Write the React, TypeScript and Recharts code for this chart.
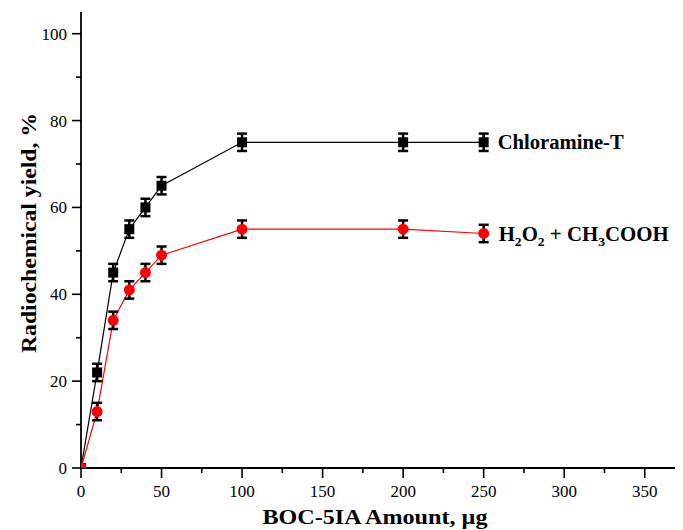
import { ComposedChart, Line, XAxis, YAxis, ErrorBar, LabelList } from 'recharts';

const amounts = [0, 10, 20, 30, 40, 50, 100, 200, 250];
const chloramineYield = [0, 22, 45, 55, 60, 65, 75, 75, 75];
const chloramineErr = [null, 2, 2, 2, 2, 2, 2, 2, 2];
const peroxideYield = [0, 13, 34, 41, 45, 49, 55, 55, 54];
const peroxideErr = [null, 2, 2, 2, 2, 2, 2, 2, 2];

const xTicks = [0, 25, 50, 75, 100, 125, 150, 175, 200, 225, 250, 275, 300, 325, 350];
const yTicks = [0, 10, 20, 30, 40, 50, 60, 70, 80, 90, 100];

const FONT = "'Liberation Serif', 'Times New Roman', Times, serif";
const LAST = amounts.length - 1;

const data = amounts.map((x, i) => ({
  x,
  ct: chloramineYield[i],
  ctErr: chloramineErr[i],
  h2: peroxideYield[i],
  h2Err: peroxideErr[i],
}));

const txt = { fontFamily: FONT, fill: '#000' };

const XTick = (p: any) => {
  const { x, y, payload } = p;
  const major = payload.value % 50 === 0;
  return (
    <g>
      <line x1={x} x2={x} y1={y} y2={y + (major ? 10 : 5)} stroke="#000" strokeWidth={1.6} />
      {major && (
        <text x={x} y={y + 29} textAnchor="middle" fontSize={17} style={txt}>
          {payload.value}
        </text>
      )}
    </g>
  );
};

const YTick = (p: any) => {
  const { x, y, payload } = p;
  const major = payload.value % 20 === 0;
  return (
    <g>
      <line x1={x - (major ? 9 : 5)} x2={x} y1={y} y2={y} stroke="#000" strokeWidth={1.6} />
      {major && (
        <text x={x - 14} y={y + 6} textAnchor="end" fontSize={17} style={txt}>
          {payload.value}
        </text>
      )}
    </g>
  );
};

const squareDot = (p: any) => (
  <rect key={`sq-${p.index}`} x={p.cx - 5} y={p.cy - 5} width={10} height={10} fill="#000" />
);
const circleDot = (p: any) => (
  <circle key={`ci-${p.index}`} cx={p.cx} cy={p.cy} r={5.5} fill="#ff0000" />
);

const ChloramineLabel = (p: any) =>
  p.index === LAST ? (
    <text x={p.x + 14} y={p.y + 7} fontSize={20} fontWeight="bold" textLength={126} lengthAdjust="spacingAndGlyphs" style={txt}>
      Chloramine-T
    </text>
  ) : null;

const PeroxideLabel = (p: any) =>
  p.index === LAST ? (
    <text x={p.x + 15} y={p.y + 8} fontSize={20} fontWeight="bold" textLength={170} lengthAdjust="spacingAndGlyphs" style={txt}>
      H<tspan dy={5} fontSize={13}>2</tspan>
      <tspan dy={-5}>O</tspan>
      <tspan dy={5} fontSize={13}>2</tspan>
      <tspan dy={-5}> + CH</tspan>
      <tspan dy={5} fontSize={13}>3</tspan>
      <tspan dy={-5}>COOH</tspan>
    </text>
  ) : null;

const XLabel = (p: any) => {
  const vb = p.viewBox;
  return (
    <text x={vb.x + 294} y={vb.y + 56} textAnchor="middle" fontSize={21} fontWeight="bold" textLength={225} lengthAdjust="spacingAndGlyphs" style={txt}>
      BOC-5IA Amount, µg
    </text>
  );
};

const YLabel = (p: any) => {
  const vb = p.viewBox;
  const cx = vb.x + 28;
  const cy = vb.y + 221;
  return (
    <text x={cx} y={cy} transform={`rotate(-90, ${cx}, ${cy})`} textAnchor="middle" fontSize={21} fontWeight="bold" textLength={240} lengthAdjust="spacingAndGlyphs" style={txt}>
      Radiochemical yield, %
    </text>
  );
};

export default function App() {
  return (
    <div style={{ width: 675, height: 522, overflow: 'hidden', fontFamily: FONT }}>
      <ComposedChart width={680} height={522} data={data} margin={{ top: 4, right: 3, left: 0, bottom: 0 }}>
        <XAxis
          dataKey="x"
          type="number"
          domain={[0, 375]}
          ticks={xTicks}
          interval={0}
          allowDataOverflow
          height={62}
          tickSize={0}
          tickMargin={0}
          tick={XTick}
          axisLine={{ stroke: '#000', strokeWidth: 1.8 }}
          label={{ content: XLabel }}
        />
        <XAxis
          xAxisId="top"
          orientation="top"
          dataKey="x"
          type="number"
          domain={[0, 375]}
          height={0}
          tick={false}
          tickLine={false}
          axisLine={{ stroke: '#000', strokeWidth: 1.8 }}
        />
        <YAxis
          type="number"
          domain={[0, 105]}
          ticks={yTicks}
          interval={0}
          allowDataOverflow
          width={73}
          tickSize={0}
          tickMargin={0}
          tick={YTick}
          axisLine={{ stroke: '#000', strokeWidth: 1.8 }}
          label={{ content: YLabel }}
        />
        <Line
          dataKey="ct"
          stroke="#000"
          strokeWidth={1.2}
          dot={squareDot}
          activeDot={false}
          isAnimationActive={false}
        >
          <LabelList dataKey="ct" content={ChloramineLabel} />
        </Line>
        <Line
          dataKey="h2"
          stroke="#ff0000"
          strokeWidth={1.2}
          dot={circleDot}
          activeDot={false}
          isAnimationActive={false}
        >
          <LabelList dataKey="h2" content={PeroxideLabel} />
        </Line>
        <Line dataKey="ct" stroke="none" dot={false} activeDot={false} isAnimationActive={false}>
          <ErrorBar dataKey="ctErr" width={5} stroke="#000" strokeWidth={2.5} />
        </Line>
        <Line dataKey="h2" stroke="none" dot={false} activeDot={false} isAnimationActive={false}>
          <ErrorBar dataKey="h2Err" width={5} stroke="#000" strokeWidth={2.5} />
        </Line>
      </ComposedChart>
    </div>
  );
}
